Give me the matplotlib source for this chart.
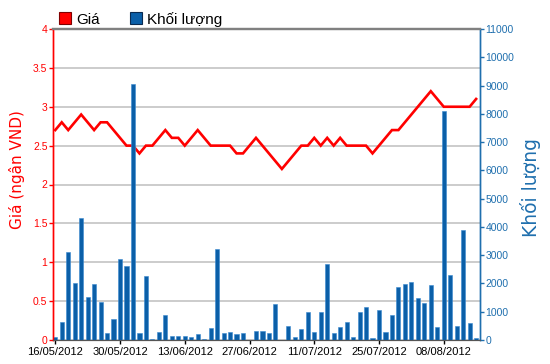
import matplotlib
matplotlib.use("Agg")
import matplotlib.pyplot as plt
from matplotlib.lines import Line2D

plt.rcParams['font.family'] = ['Liberation Sans', 'DejaVu Sans']

# trading-day index 0..65 (16/05/2012 .. 15/08/2012)
tick_labels = ['16/05/2012', '30/05/2012', '13/06/2012', '27/06/2012',
               '11/07/2012', '25/07/2012', '08/08/2012']
tick_pos = [0, 10, 20, 30, 40, 50, 60]

price = [2.7, 2.8, 2.7, 2.8, 2.9, 2.8, 2.7, 2.8, 2.8, 2.7,
         2.6, 2.5, 2.5, 2.4, 2.5, 2.5, 2.6, 2.7, 2.6, 2.6,
         2.5, 2.6, 2.7, 2.6, 2.5, 2.5, 2.5, 2.5, 2.4, 2.4,
         2.5, 2.6, 2.5, 2.4, 2.3, 2.2, 2.3, 2.4, 2.5, 2.5,
         2.6, 2.5, 2.6, 2.5, 2.6, 2.5, 2.5, 2.5, 2.5, 2.4,
         2.5, 2.6, 2.7, 2.7, 2.8, 2.9, 3.0, 3.1, 3.2, 3.1,
         3.0, 3.0, 3.0, 3.0, 3.0, 3.1]

volume = [100, 640, 3120, 2020, 4320, 1520, 1980, 1340, 235, 730,
          2850, 2620, 9050, 235, 2260, 50, 270, 880, 130, 130,
          130, 90, 210, 40, 440, 3220, 260, 300, 210, 250,
          0, 330, 330, 240, 1290, 0, 480, 120, 380, 1000,
          290, 1000, 2680, 235, 470, 650, 120, 1000, 1180, 70,
          1060, 270, 883, 1860, 1980, 2040, 1470, 1300, 1940, 450,
          8090, 2300, 480, 3890, 590, 60]

price_ticks = [0, 0.5, 1, 1.5, 2, 2.5, 3, 3.5, 4]
price_tick_labels = ['0', '0.5', '1', '1.5', '2', '2.5', '3', '3.5', '4']
vol_ticks = list(range(0, 11001, 1000))

RED = '#ff0000'
BLUE = '#0b5fa8'
AXBLUE = '#1f6fae'

fig = plt.figure(figsize=(5.5, 3.64), dpi=100)
ax = fig.add_axes([53/550, 1-340/364, 427/550, 311/364])
ax2 = ax.twinx()

x = list(range(len(price)))

ax.plot(x, price, color=RED, linewidth=1.9, zorder=3, solid_joinstyle='miter')
ax.set_ylim(0, 4)
ax.set_yticks(price_ticks)
ax.set_yticklabels(price_tick_labels)
ax.set_xlim(-0.35, 65.6)
ax.set_xticks(tick_pos)
ax.set_xticklabels(tick_labels, fontsize=8)
ax.yaxis.grid(True, color='#cccccc', linewidth=1.4)
ax.set_axisbelow(True)
ax.tick_params(axis='y', colors=RED, labelsize=7.5, length=3, width=1, pad=1)
ax.tick_params(axis='x', colors='black', labelsize=8, length=3, width=1, pad=2)

ax2.bar(x, volume, width=0.64, color=BLUE, edgecolor='#3a8ad0', linewidth=0.4, zorder=2)
ax2.set_ylim(0, 11000)
ax2.set_yticks(vol_ticks)
ax2.tick_params(axis='y', colors=AXBLUE, labelsize=7.5, length=3, width=1, pad=1)

for a in (ax, ax2):
    a.spines['left'].set_color(RED)
    a.spines['right'].set_color(AXBLUE)
    a.spines['top'].set_color('#808080')
    a.spines['top'].set_linewidth(1.6)
    a.spines['bottom'].set_color('#555555')
    a.spines['left'].set_linewidth(1.0)
    a.spines['right'].set_linewidth(1.0)

ax.set_ylabel('Giá (ngân VND)', color=RED, fontsize=11, family=['DejaVu Sans'])
ax.yaxis.set_label_coords(-0.066, 0.547)
ax2.set_ylabel('Khối lượng', color=AXBLUE, fontsize=13.5, rotation=90, family=['DejaVu Sans'])
ax2.yaxis.set_label_coords(1.094, 0.489)

handles = [Line2D([], [], linestyle='none', marker='s', markersize=8.5,
                  markerfacecolor=RED, markeredgecolor='#800000', markeredgewidth=0.8),
           Line2D([], [], linestyle='none', marker='s', markersize=8.5,
                  markerfacecolor=BLUE, markeredgecolor='#0a2a50', markeredgewidth=0.8)]
fig.legend(handles, ['Giá', 'Khối lượng'], loc='upper left',
           bbox_to_anchor=(47/550, 1.0 - 1/364), ncol=2, frameon=False,
           fontsize=11, handletextpad=0.2, columnspacing=1.9, handlelength=1.0,
           borderaxespad=0.3)

fig.savefig('out.png', dpi=100)
